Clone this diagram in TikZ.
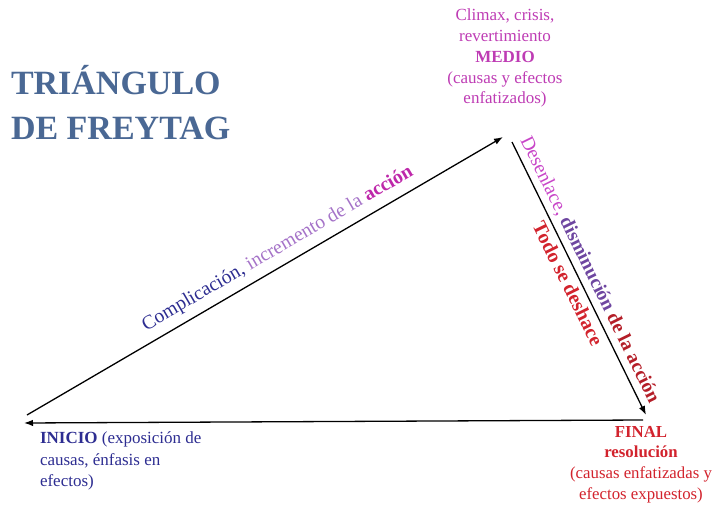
\documentclass[tikz,border=0pt]{standalone}
\usepackage{fontspec}
\setmainfont{Liberation Serif}
\usetikzlibrary{arrows.meta}
\definecolor{titleblue}{RGB}{74,104,148}
\definecolor{topmag}{RGB}{190,60,180}
\definecolor{dblue}{RGB}{45,45,145}
\definecolor{lpurple}{RGB}{165,115,200}
\definecolor{amag}{RGB}{190,40,170}
\definecolor{pinkmag}{RGB}{200,70,200}
\definecolor{dpurple}{RGB}{110,70,160}
\definecolor{dred}{RGB}{180,30,40}
\definecolor{redt}{RGB}{210,35,45}
\tikzset{
  arr/.style={line width=1.3pt,-{Latex[length=9pt,width=6.5pt]}},
  lbl/.style={inner sep=0pt,outer sep=0pt},
}
\begin{document}
\begin{tikzpicture}[x=1pt,y=-1pt]
\useasboundingbox (0,0) rectangle (713,506);
\coordinate (A) at (27,415);
\coordinate (B) at (503,137);
\coordinate (C) at (512,142);
\coordinate (D) at (646,415);
\coordinate (E) at (643,420);
\coordinate (F) at (24,423);
% title
\node[lbl,anchor=north west,align=left,text=titleblue,font=\fontsize{34}{45}\selectfont\bfseries] (title) at (11,65) {TRIÁNGULO\\DE FREYTAG};
% top text
\node[lbl,anchor=north,align=center,text=topmag,font=\fontsize{17}{20.8}\selectfont] (medio) at (505,9)
  {Climax, crisis,\\revertimiento\\\textbf{MEDIO}\\(causas y efectos\\enfatizados)};
% arrows
\draw[arr] (A) -- (B) node[lbl,pos=0.545,sloped,above=8pt,font=\fontsize{19.7}{22}\selectfont] (comp)
  {\textcolor{dblue}{Complicación,} \textcolor{lpurple}{incremento de la} \textcolor{amag}{\textbf{acción}}};
\draw[arr] (C) -- (D)
  node[lbl,pos=0.49,sloped,above=5pt,font=\fontsize{19.5}{22}\selectfont] (des)
  {\textcolor{pinkmag}{Desenlace,} \textcolor{dpurple}{\textbf{disminución}} \textcolor{dred}{\textbf{de la acción}}}
  node[lbl,pos=0.5,sloped,below=5pt,font=\fontsize{20}{22}\selectfont\bfseries,text=redt] (todo) {Todo se deshace};
\draw[arr] (E) -- (F);
% bottom left
\node[lbl,anchor=north west,align=left,text=dblue,font=\fontsize{17}{21.5}\selectfont] (inicio) at (40,432)
  {\textbf{INICIO} (exposición de\\causas, énfasis en\\efectos)};
% bottom right
\node[lbl,anchor=north,align=center,text=redt,font=\fontsize{16.8}{20.8}\selectfont] (final) at (641,426)
  {\textbf{FINAL}\\\textbf{resolución}\\(causas enfatizadas y\\efectos expuestos)};
\end{tikzpicture}
\end{document}
